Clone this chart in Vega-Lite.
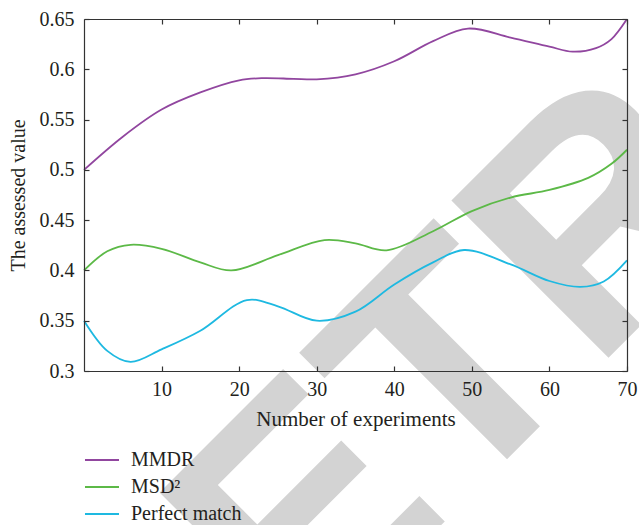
{
  "$schema": "https://vega.github.io/schema/vega-lite/v6.json",
  "width": 543,
  "height": 352,
  "autosize": {"type": "none"},
  "padding": {"left": 84, "top": 19, "right": 12, "bottom": 154},
  "background": "white",
  "config": {"view": {"stroke": null}, "font": "Liberation Serif"},
  "layer": [
    {
      "data": {"values": [{"label": "RETRACTED"}]},
      "mark": {"type": "text", "font": "Liberation Sans", "fontWeight": "bold", "fontSize": 323, "angle": 315, "color": "#d3d3d3", "align": "center", "baseline": "middle"},
      "encoding": {
        "x": {"datum": 88.7, "type": "quantitative", "scale": {"domain": [0, 70], "nice": false, "zero": false},
          "axis": {"orient": "top", "labels": false, "title": null, "values": [10, 20, 30, 40, 50, 60, 70], "tickSize": -5, "domainColor": "#333333", "tickColor": "#333333", "domainWidth": 1.2, "tickWidth": 1.2, "zindex": 1, "grid": false}},
        "y": {"datum": 0.6122, "type": "quantitative", "scale": {"domain": [0.3, 0.65], "nice": false, "zero": false},
          "axis": {"orient": "right", "labels": false, "title": null, "values": [0.3, 0.35, 0.4, 0.45, 0.5, 0.55, 0.6, 0.65], "tickSize": -5, "domainColor": "#333333", "tickColor": "#333333", "domainWidth": 1.2, "tickWidth": 1.2, "zindex": 1, "grid": false}},
        "text": {"field": "label"}
      }
    },
    {
      "data": {"values": [
        {"method": "MMDR", "x": 0, "value": 0.5},
        {"method": "MMDR", "x": 5, "value": 0.533},
        {"method": "MMDR", "x": 10, "value": 0.56},
        {"method": "MMDR", "x": 15, "value": 0.577},
        {"method": "MMDR", "x": 20, "value": 0.589},
        {"method": "MMDR", "x": 23, "value": 0.5912},
        {"method": "MMDR", "x": 27, "value": 0.5905},
        {"method": "MMDR", "x": 30, "value": 0.59},
        {"method": "MMDR", "x": 35, "value": 0.595},
        {"method": "MMDR", "x": 40, "value": 0.608},
        {"method": "MMDR", "x": 45, "value": 0.628},
        {"method": "MMDR", "x": 49.5, "value": 0.6405},
        {"method": "MMDR", "x": 55, "value": 0.6315},
        {"method": "MMDR", "x": 60, "value": 0.6225},
        {"method": "MMDR", "x": 63, "value": 0.6175},
        {"method": "MMDR", "x": 66, "value": 0.621},
        {"method": "MMDR", "x": 68, "value": 0.63},
        {"method": "MMDR", "x": 70, "value": 0.65},
        {"method": "MSD²", "x": 0, "value": 0.4},
        {"method": "MSD²", "x": 3, "value": 0.419},
        {"method": "MSD²", "x": 6, "value": 0.4255},
        {"method": "MSD²", "x": 10, "value": 0.4215},
        {"method": "MSD²", "x": 15, "value": 0.408},
        {"method": "MSD²", "x": 19, "value": 0.4},
        {"method": "MSD²", "x": 25, "value": 0.4152},
        {"method": "MSD²", "x": 31, "value": 0.4302},
        {"method": "MSD²", "x": 35, "value": 0.427},
        {"method": "MSD²", "x": 39, "value": 0.42},
        {"method": "MSD²", "x": 45, "value": 0.439},
        {"method": "MSD²", "x": 50, "value": 0.459},
        {"method": "MSD²", "x": 55, "value": 0.4725},
        {"method": "MSD²", "x": 60, "value": 0.48},
        {"method": "MSD²", "x": 65, "value": 0.492},
        {"method": "MSD²", "x": 68, "value": 0.506},
        {"method": "MSD²", "x": 70, "value": 0.52},
        {"method": "Perfect match", "x": 0, "value": 0.35},
        {"method": "Perfect match", "x": 3, "value": 0.32},
        {"method": "Perfect match", "x": 6, "value": 0.309},
        {"method": "Perfect match", "x": 10, "value": 0.3215},
        {"method": "Perfect match", "x": 15, "value": 0.34},
        {"method": "Perfect match", "x": 21, "value": 0.3705},
        {"method": "Perfect match", "x": 25, "value": 0.3643},
        {"method": "Perfect match", "x": 30, "value": 0.35},
        {"method": "Perfect match", "x": 35, "value": 0.359},
        {"method": "Perfect match", "x": 40, "value": 0.386},
        {"method": "Perfect match", "x": 45, "value": 0.408},
        {"method": "Perfect match", "x": 49, "value": 0.4203},
        {"method": "Perfect match", "x": 55, "value": 0.406},
        {"method": "Perfect match", "x": 60, "value": 0.3895},
        {"method": "Perfect match", "x": 64, "value": 0.3836},
        {"method": "Perfect match", "x": 67, "value": 0.389},
        {"method": "Perfect match", "x": 70, "value": 0.41}
      ]},
      "mark": {"type": "line", "interpolate": "catmull-rom", "strokeWidth": 1.8},
      "encoding": {
        "x": {"field": "x", "type": "quantitative", "scale": {"domain": [0, 70], "nice": false, "zero": false},
          "axis": {"orient": "bottom", "values": [10, 20, 30, 40, 50, 60, 70], "tickSize": -5, "labelPadding": 13, "labelFontSize": 20, "labelColor": "#231f20", "labelFont": "Liberation Serif", "labelFlush": false, "domainColor": "#333333", "tickColor": "#333333", "domainWidth": 1.2, "tickWidth": 1.2, "zindex": 1, "grid": false,
            "title": "Number of experiments", "titleFont": "Liberation Serif", "titleFontSize": 21, "titleFontWeight": "normal", "titleColor": "#231f20", "titleBaseline": "alphabetic", "titleAlign": "center", "titleX": 271.5, "titleY": 54}},
        "y": {"field": "value", "type": "quantitative", "scale": {"domain": [0.3, 0.65], "nice": false, "zero": false},
          "axis": {"orient": "left", "values": [0.3, 0.35, 0.4, 0.45, 0.5, 0.55, 0.6, 0.65], "format": ".2~f", "tickSize": -5, "labelPadding": 15, "labelFontSize": 20, "labelColor": "#231f20", "labelFont": "Liberation Serif", "labelFlush": false, "domainColor": "#333333", "tickColor": "#333333", "domainWidth": 1.2, "tickWidth": 1.2, "zindex": 1, "grid": false,
            "title": "The assessed value", "titleFont": "Liberation Serif", "titleFontSize": 20, "titleFontWeight": "normal", "titleColor": "#231f20", "titleAngle": 270, "titleBaseline": "alphabetic", "titleAlign": "center", "titleX": -59.5, "titleY": 176}},
        "color": {"field": "method", "type": "nominal",
          "scale": {"domain": ["MMDR", "MSD²", "Perfect match"], "range": ["#91469f", "#5cb947", "#1eb9e1"]},
          "legend": {"orient": "none", "legendX": 3.5, "legendY": 426.5, "title": null, "direction": "vertical", "symbolType": "M-1.26,0H1.26", "symbolSize": 729, "symbolStrokeWidth": 2, "labelFontSize": 20, "labelFont": "Liberation Serif", "labelColor": "#231f20", "labelOffset": 14.5, "rowPadding": 2, "padding": 0, "labelLimit": 300}}
      }
    }
  ],
  "resolve": {"axis": {"x": "independent", "y": "independent"}}
}
